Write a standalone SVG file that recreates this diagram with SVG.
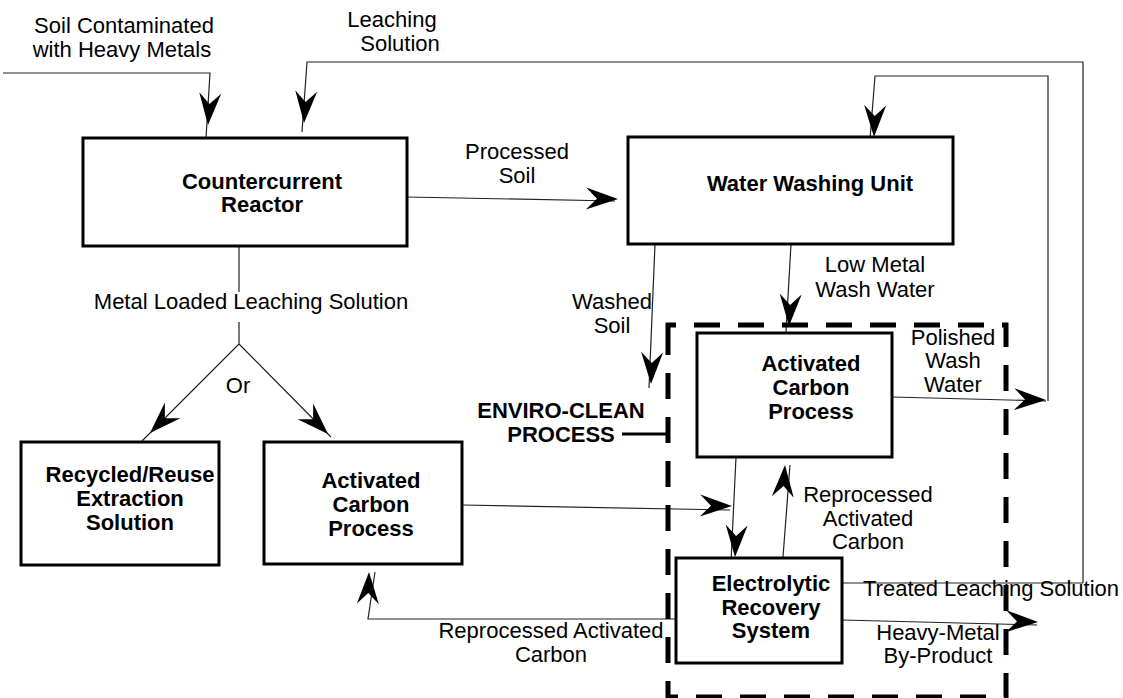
<svg xmlns="http://www.w3.org/2000/svg" width="1123" height="698" viewBox="0 0 1123 698">
<defs>
<path id="ah" d="M0,0 L-32,-11 L-21,0 L-32,11 Z" fill="#000"/>
</defs>
<style>
.box{fill:#fff;stroke:#000;stroke-width:3}
.ln{fill:none;stroke:#222;stroke-width:1.2}
.t{font-family:"Liberation Sans",Arial,sans-serif;font-size:22px;fill:#000;text-anchor:middle}
.b{font-weight:bold}
.dash{fill:none;stroke:#000;stroke-width:5;stroke-dasharray:26 18}
</style>
<rect width="1123" height="698" fill="#fff"/>

<g id="connectors">
  <path class="ln" d="M3,73 H210 L206,138"/>
  <path class="ln" d="M1083,583 V62 H307 L302,132"/>
  <path class="ln" d="M1048,401 V76 H875 L870,139"/>
  <path class="ln" d="M407,197 L615,201"/>
  <path class="ln" d="M239,246 V292 M239,322 V344 L142,441 M239,344 L331,437"/>
  <path class="ln" d="M655,244 L649,388"/>
  <path class="ln" d="M791,244 L786,332"/>
  <path class="ln" d="M892,397 L1046,401"/>
  <path class="ln" d="M462,505 L730,510"/>
  <path class="ln" d="M736,457 L731,562"/>
  <path class="ln" d="M783,557 L790,465"/>
  <path class="ln" d="M842,583 H1083"/>
  <path class="ln" d="M842,620 L1037,625"/>
  <path class="ln" d="M676,619 H368 L375,572"/>
  <use href="#ah" transform="translate(208,125) rotate(94)"/>
  <use href="#ah" transform="translate(304,123) rotate(94)"/>
  <use href="#ah" transform="translate(874,137) rotate(92)"/>
  <use href="#ah" transform="translate(618,199) rotate(1)"/>
  <use href="#ah" transform="translate(150,433) rotate(135)"/>
  <use href="#ah" transform="translate(328,434) rotate(45)"/>
  <use href="#ah" transform="translate(651,384) rotate(92)"/>
  <use href="#ah" transform="translate(789,326) rotate(93)"/>
  <use href="#ah" transform="translate(1046,400) rotate(1.5)"/>
  <use href="#ah" transform="translate(732,506) rotate(1)"/>
  <use href="#ah" transform="translate(735,557) rotate(93)"/>
  <use href="#ah" transform="translate(785,465) rotate(-86)"/>
  <use href="#ah" transform="translate(369,572) rotate(-88)"/>
  <use href="#ah" transform="translate(1038,622) rotate(1.5)"/>
</g>

<g id="labels">
  <text class="t" x="124" y="33">Soil Contaminated</text>
  <text class="t" x="122" y="57">with Heavy Metals</text>
  <text class="t" x="392" y="27">Leaching</text>
  <text class="t" x="400" y="51">Solution</text>
  <text class="t" x="517" y="159">Processed</text>
  <text class="t" x="517" y="183">Soil</text>
  <text class="t" x="251" y="309">Metal Loaded Leaching Solution</text>
  <text class="t" x="238" y="393">Or</text>
  <text class="t" x="875" y="272">Low Metal</text>
  <text class="t" x="875" y="297">Wash Water</text>
  <text class="t" x="612" y="309">Washed</text>
  <text class="t" x="612" y="333">Soil</text>
  <text class="t" x="953" y="345">Polished</text>
  <text class="t" x="953" y="368">Wash</text>
  <text class="t" x="953" y="392">Water</text>
  <text class="t" x="868" y="502">Reprocessed</text>
  <text class="t" x="868" y="526">Activated</text>
  <text class="t" x="868" y="549">Carbon</text>
  <text class="t" x="991" y="596">Treated Leaching Solution</text>
  <text class="t" x="938" y="640">Heavy-Metal</text>
  <text class="t" x="938" y="663">By-Product</text>
  <text class="t" x="551" y="638">Reprocessed Activated</text>
  <text class="t" x="551" y="662">Carbon</text>
</g>

<g id="enviro-clean">
  <path class="dash" d="M668,343 V325 H1006 V697 H668 Z"/>
  <path d="M622,434 H668" stroke="#000" stroke-width="3" fill="none"/>
  <text class="t b" x="561" y="418">ENVIRO-CLEAN</text>
  <text class="t b" x="561" y="442">PROCESS</text>
</g>

<g id="reactor">
  <rect class="box" x="83" y="138" width="324" height="108"/>
  <text class="t b" x="262" y="189">Countercurrent</text>
  <text class="t b" x="262" y="212">Reactor</text>
</g>

<g id="washing">
  <rect class="box" x="628" y="137" width="325" height="107"/>
  <text class="t b" x="810" y="191">Water Washing Unit</text>
</g>

<g id="ac-upper">
  <rect class="box" x="697" y="333" width="195" height="124"/>
  <text class="t b" x="811" y="371">Activated</text>
  <text class="t b" x="811" y="395">Carbon</text>
  <text class="t b" x="811" y="419">Process</text>
</g>

<g id="recycled">
  <rect class="box" x="21" y="442" width="198" height="123"/>
  <text class="t b" x="130" y="482">Recycled/Reuse</text>
  <text class="t b" x="130" y="506">Extraction</text>
  <text class="t b" x="130" y="530">Solution</text>
</g>

<g id="ac-lower">
  <rect class="box" x="264" y="442" width="198" height="122"/>
  <text class="t b" x="371" y="488">Activated</text>
  <text class="t b" x="371" y="512">Carbon</text>
  <text class="t b" x="371" y="536">Process</text>
</g>

<g id="electrolytic">
  <rect class="box" x="676" y="558" width="166" height="105"/>
  <text class="t b" x="771" y="591">Electrolytic</text>
  <text class="t b" x="771" y="615">Recovery</text>
  <text class="t b" x="771" y="638">System</text>
</g>
</svg>
